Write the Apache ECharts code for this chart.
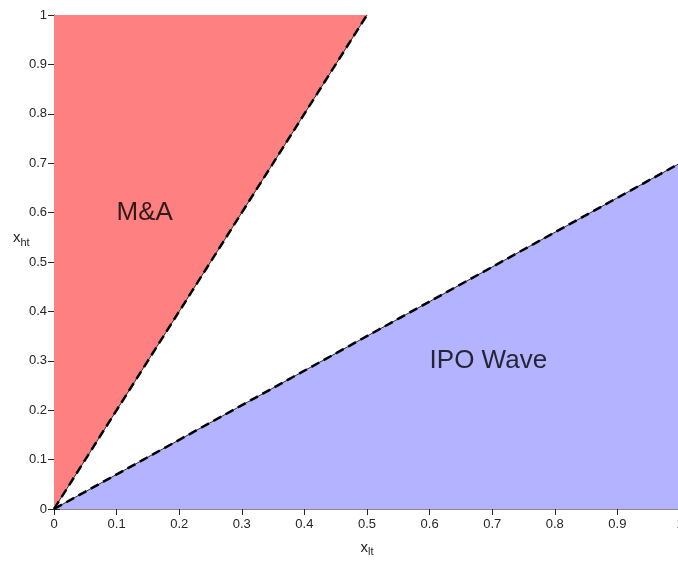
<!DOCTYPE html>
<html><head><meta charset="utf-8">
<script src="https://cdn.jsdelivr.net/npm/echarts@6/dist/echarts.min.js"></script>
<style>html,body{margin:0;padding:0;background:#fff}#c{width:678px;height:561px}</style>
</head><body><div id="c"></div>
<script>
const maRegion = [[0,0],[0,1],[0.5,1]];
const ipoRegion = [[0,0],[1,0],[1,0.7]];
const maBoundary = [[0,0],[0.5,1]];
const ipoBoundary = [[0,0],[1,0.7]];
const regionLabels = [
  {name:'M&A', x:0.1, y:0.6},
  {name:'IPO Wave', x:0.6, y:0.3}
];
const axisMin = 0, axisMax = 1, axisStep = 0.1;

const FONT = '"Liberation Sans", Arial, sans-serif';
const AX = '#262626';
const chart = echarts.init(document.getElementById('c'));

function polySeries(pts, color){
  return {
    type:'custom', xAxisIndex:0, yAxisIndex:0, z:1, silent:true,
    data:[0],
    renderItem:function(params, api){
      return {type:'polygon', shape:{points:pts.map(p=>api.coord(p))},
        style:{fill:color, stroke:null}};
    }
  };
}
function lineSeries(pts, w, type, z){
  return {type:'line', data:pts, symbol:'none', silent:true, z:z,
    lineStyle:{color:'#000', width:w, type:type}, animation:false};
}
const tickLabel = v => {
  const r = Math.round(v*10)/10;
  return r===0?'0':(r===1?'1':String(r));
};

chart.setOption({
  animation:false,
  grid:{left:54, top:15, right:-2, bottom:52, containLabel:false, outerBoundsMode:'none'},
  xAxis:[
    {type:'value', min:axisMin, max:axisMax, interval:axisStep, position:'bottom',
     axisLine:{show:true, lineStyle:{color:AX, width:1}},
     axisTick:{show:true, inside:true, length:6, lineStyle:{color:AX}},
     axisLabel:{color:AX, fontFamily:FONT, fontSize:13, margin:9, formatter:tickLabel},
     splitLine:{show:false},
     name:'{b|x}{s|lt}', nameLocation:'middle', nameGap:29,
     nameTextStyle:{rich:{b:{fontFamily:FONT, fontSize:15, color:AX}, s:{fontFamily:FONT, fontSize:11, color:AX, verticalAlign:'bottom', padding:[8,0,0,0]}}}
    },
    {type:'value', min:axisMin, max:axisMax, interval:axisStep, position:'top',
     axisLine:{show:true, lineStyle:{color:'#8a8a8a', width:1}},
     axisTick:{show:true, inside:true, length:6, lineStyle:{color:AX}},
     axisLabel:{show:false}, splitLine:{show:false}}
  ],
  yAxis:[
    {type:'value', min:axisMin, max:axisMax, interval:axisStep, position:'left',
     axisLine:{show:true, lineStyle:{color:AX, width:1}},
     axisTick:{show:true, inside:true, length:6, lineStyle:{color:AX}},
     axisLabel:{color:AX, fontFamily:FONT, fontSize:13, margin:7, formatter:tickLabel},
     splitLine:{show:false}},
    {type:'value', min:axisMin, max:axisMax, interval:axisStep, position:'right',
     axisLine:{show:true, lineStyle:{color:'#8a8a8a', width:1}},
     axisTick:{show:true, inside:true, length:6, lineStyle:{color:AX}},
     axisLabel:{show:false}, splitLine:{show:false}}
  ],
  graphic:[
    {type:'text', left:13, top:230, z:10,
     style:{rich:{b:{fontFamily:FONT, fontSize:15, fill:AX}, s:{fontFamily:FONT, fontSize:11, fill:AX, padding:[10,0,0,0]}},
       text:'{b|x}{s|ht}'}}
  ],
  series:[
    polySeries(maRegion, '#ff8080'),
    polySeries(ipoRegion, '#b3b3ff'),
    lineSeries(maBoundary, 0.8, 'solid', 3),
    lineSeries(ipoBoundary, 0.8, 'solid', 3),
    lineSeries(maBoundary, 2.5, [9,5], 4),
    lineSeries(ipoBoundary, 2.5, [9,5], 4),
    {type:'scatter', symbolSize:0, z:5, silent:true,
     data:regionLabels.map(d=>({value:[d.x,d.y], name:d.name})),
     label:{show:true, position:'right', distance:0, formatter:'{b}',
       fontFamily:FONT, fontSize:26, color:'#000'}}
  ]
});
</script></body></html>
